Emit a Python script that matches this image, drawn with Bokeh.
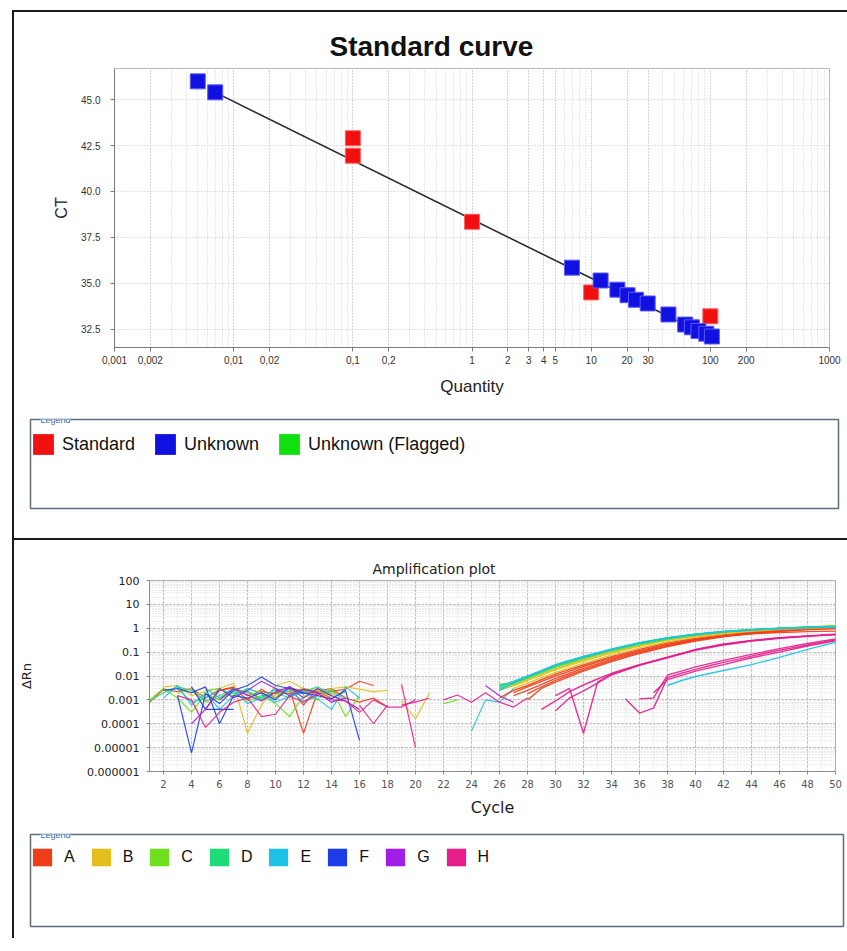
from bokeh.plotting import figure
from bokeh.models import Range1d, FixedTicker, Legend, LegendItem, Label, PrintfTickFormatter
from bokeh.layouts import column, row
from bokeh.embed import file_html
from bokeh.resources import INLINE

# ---------------- Standard curve data ----------------
std_qty = [0.1, 0.1, 1.0, 10.0, 100.0]
std_ct = [42.9, 41.95, 38.35, 34.5, 33.2]
unk_qty = [0.0050, 0.0070, 6.9, 12.0, 16.6, 20.2, 23.8, 29.8, 44.5, 61.5, 70.0, 79.5, 92.5, 103.0]
unk_ct = [46.0, 45.4, 35.85, 35.15, 34.65, 34.35, 34.1, 33.9, 33.3, 32.75, 32.6, 32.4, 32.25, 32.1]
fit_qty = [0.0070, 105.0]
fit_ct = [45.4, 32.0]

x_ticks = [0.001, 0.002, 0.01, 0.02, 0.1, 0.2, 1, 2, 3, 4, 5, 10, 20, 30, 100, 200, 1000]
x_tick_labels = ["0,001", "0,002", "0,01", "0,02", "0,1", "0,2", "1", "2", "3", "4", "5",
                 "10", "20", "30", "100", "200", "1000"]
ct_ticks = [32.5, 35.0, 37.5, 40.0, 42.5, 45.0]

legend1_labels = ["Standard", "Unknown", "Unknown (Flagged)"]
legend1_colors = ["#f01010", "#1010e0", "#10e010"]

# ---------------- Amplification plot data ----------------
rows = ["A", "B", "C", "D", "E", "F", "G", "H"]
row_colors = ["#ee3d1a", "#e3be1e", "#6ee01e", "#1edc78", "#1ec2e6", "#1e3ce6", "#a01ee6", "#e61e8c"]

amp_y_ticks = [1e-6, 1e-5, 1e-4, 1e-3, 1e-2, 0.1, 1, 10, 100]
amp_y_labels = ["0.000001", "0.00001", "0.0001", "0.001", "0.01", "0.1", "1", "10", "100"]
cycle_ticks = list(range(2, 51, 2))

# baseline (noise) traces: (row, cycles, dRn)
noise_wells = [
    ("A", [1, 2, 3, 4, 5, 6, 7, 8, 9, 10, 11, 12, 13, 14, 15, 16, 17],
     [0.0008, 0.0028, 0.0022, 0.0030, 0.0012, 0.0025, 0.0035, 0.0015, 0.0022, 0.0018, 0.0030, 0.0025, 0.0018, 0.0022, 0.0028, 0.0060, 0.0040]),
    ("A", [5, 6, 7, 8, 9, 10, 11, 12, 13, 14],
     [0.0004, 0.0025, 0.0032, 0.0010, 0.0028, 0.0012, 0.0035, 0.0006, 0.0030, 0.0015]),
    ("A", [9, 10, 11, 12, 13, 14], [0.0015, 0.0020, 0.0028, 0.00004, 0.0022, 0.0012]),
    ("A", [10, 11, 12, 13], [0.0025, 0.0018, 0.0030, 0.0020]),
    ("A", [12, 13, 14, 15, 16, 17, 18], [0.0018, 0.0024, 0.0030, 0.0012, 0.0008, 0.0012, 0.0005]),
    ("B", [2, 3, 4, 5, 6, 7, 8, 9, 10, 11, 12, 13, 14, 15],
     [0.0035, 0.0040, 0.0015, 0.0022, 0.0030, 0.0050, 0.00004, 0.0006, 0.0040, 0.0060, 0.0030, 0.0025, 0.0018, 0.0020]),
    ("B", [3, 4, 5, 6, 7, 8, 9, 10, 11, 12],
     [0.0018, 0.0030, 0.0008, 0.0012, 0.0028, 0.0022, 0.0010, 0.0016, 0.0030, 0.0024]),
    ("B", [14, 15, 16, 17, 18], [0.0030, 0.0035, 0.0028, 0.0022, 0.0025]),
    ("B", [19, 20, 21], [0.0009, 0.00016, 0.0020]),
    ("C", [1, 2, 3, 4, 5, 6, 7, 8, 9, 10, 11, 12, 13, 14, 15, 16],
     [0.0010, 0.0030, 0.0012, 0.0003, 0.0018, 0.0010, 0.0022, 0.0009, 0.0015, 0.0007, 0.0002, 0.0015, 0.0010, 0.0030, 0.0002, 0.0015]),
    ("C", [5, 6, 7, 8, 9, 10, 11, 12, 13, 14],
     [0.0025, 0.0030, 0.0014, 0.0030, 0.0020, 0.0012, 0.0024, 0.0018, 0.0028, 0.0012]),
    ("C", [22, 23], [0.0007, 0.0010]),
    ("D", [3, 4, 5, 6, 7, 8, 9, 10, 11, 12, 13, 14, 15],
     [0.0030, 0.0008, 0.0012, 0.0028, 0.0018, 0.0024, 0.0010, 0.0020, 0.0012, 0.0028, 0.0020, 0.0025, 0.0010]),
    ("D", [1, 2, 3, 4, 5, 6, 7, 8, 9, 10, 11, 12, 13, 14],
     [0.0009, 0.0020, 0.0035, 0.0025, 0.0009, 0.0015, 0.0030, 0.0020, 0.0012, 0.0028, 0.0016, 0.0022, 0.0035, 0.0018]),
    ("E", [2, 3, 4, 5, 6, 7, 8, 9, 10, 11, 12, 13, 14, 15, 16],
     [0.0012, 0.0040, 0.0006, 0.0020, 0.0004, 0.0015, 0.0030, 0.0018, 0.0008, 0.0014, 0.0020, 0.0011, 0.0004, 0.0035, 0.0012]),
    ("E", [5, 6, 7, 8, 9, 10, 11, 12, 13],
     [0.0030, 0.0012, 0.0025, 0.0007, 0.0012, 0.0030, 0.0022, 0.0009, 0.0015]),
    ("E", [24, 25, 26, 27], [0.00005, 0.0010, 0.0008, 0.0030]),
    ("F", [3, 4, 5, 6, 7, 8, 9, 10, 11, 12, 13, 14, 15, 16],
     [0.0015, 0.000006, 0.0018, 0.0007, 0.0025, 0.0040, 0.0090, 0.0040, 0.0030, 0.0020, 0.0015, 0.0011, 0.0025, 0.00002]),
    ("F", [4, 5, 6, 7], [0.0035, 0.0004, 0.0004, 0.0004]),
    ("F", [2, 3, 4, 5, 6, 7, 8, 9, 10, 11, 12],
     [0.0025, 0.0030, 0.0020, 0.0035, 0.0001, 0.0015, 0.0012, 0.0020, 0.0010, 0.0035, 0.0018]),
    ("G", [4, 5, 6, 7, 8, 9, 10, 11, 12, 13, 14, 15],
     [0.0001, 0.0004, 0.0030, 0.0012, 0.0025, 0.0060, 0.0030, 0.0015, 0.0028, 0.0020, 0.0008, 0.0012]),
    ("G", [6, 7, 8, 9, 10, 11, 12, 13, 14, 15, 16],
     [0.0010, 0.0030, 0.0016, 0.0009, 0.0022, 0.0035, 0.0012, 0.0030, 0.0015, 0.0009, 0.0004]),
    ("G", [25, 26, 27], [0.0040, 0.0015, 0.0008]),
    ("H", [3, 4, 5, 6, 7, 8, 9, 10, 11, 12, 13, 14, 15, 16, 17, 18, 19, 20],
     [0.0015, 0.0010, 0.00007, 0.0003, 0.0008, 0.0012, 0.0002, 0.00025, 0.0015, 0.0008, 0.0018, 0.0010, 0.0009, 0.0003, 0.0010, 0.0005, 0.0005, 0.0010]),
    ("H", [19, 20], [0.0045, 0.00001]),
    ("H", [19, 20, 21], [0.0006, 0.0008, 0.0012]),
    ("H", [16, 17, 18], [0.0006, 0.0001, 0.0006]),
    ("H", [22, 23, 24, 25, 26, 27, 28], [0.0010, 0.0016, 0.0008, 0.0020, 0.0008, 0.0005, 0.0012]),
]

# amplification traces: (row, cycles, dRn)
amp_wells = [
    ("A", [27, 28, 29, 30, 31, 32, 34, 36, 38, 40, 42, 44, 46, 48, 50],
     [0.0020, 0.0035, 0.0060, 0.010, 0.016, 0.025, 0.057, 0.115, 0.21, 0.34, 0.47, 0.58, 0.66, 0.72, 0.76]),
    ("A", [26, 27, 28, 29, 30, 31, 32, 34, 36, 38, 40, 42, 44, 46, 48, 50],
     [0.0012, 0.0025, 0.0040, 0.0070, 0.012, 0.019, 0.029, 0.065, 0.13, 0.24, 0.38, 0.54, 0.70, 0.84, 0.97, 1.08]),
    ("A", [27, 28, 29, 30, 31, 32, 34, 36, 38, 40, 42, 44, 46, 48, 50],
     [0.0015, 0.0025, 0.0045, 0.0080, 0.013, 0.021, 0.050, 0.105, 0.20, 0.33, 0.48, 0.64, 0.79, 0.92, 1.03]),
    ("A", [28, 29, 30, 31, 32, 34, 36, 38, 40, 42, 44, 46, 48, 50],
     [0.0010, 0.0030, 0.0055, 0.0095, 0.016, 0.040, 0.088, 0.17, 0.29, 0.44, 0.60, 0.75, 0.88, 0.98]),
    ("A", [28, 29, 30, 31, 32, 34, 36, 38, 40, 42, 44, 46, 48, 50],
     [0.0018, 0.0035, 0.0065, 0.011, 0.018, 0.045, 0.095, 0.18, 0.31, 0.46, 0.62, 0.77, 0.90, 1.00]),
    ("B", [27, 28, 29, 30, 31, 32, 34, 36, 38, 40, 42, 44, 46, 48, 50],
     [0.0030, 0.0050, 0.0085, 0.014, 0.022, 0.034, 0.075, 0.15, 0.27, 0.42, 0.58, 0.74, 0.88, 1.00, 1.10]),
    ("B", [27, 28, 29, 30, 31, 32, 34, 36, 38, 40, 42, 44, 46, 48, 50],
     [0.0040, 0.0070, 0.012, 0.020, 0.031, 0.046, 0.10, 0.19, 0.33, 0.50, 0.68, 0.85, 0.99, 1.12, 1.25]),
    ("B", [26, 27, 28, 29, 30, 31, 32, 34, 36, 38, 40, 42, 44, 46, 48, 50],
     [0.0025, 0.0040, 0.0065, 0.011, 0.018, 0.028, 0.042, 0.092, 0.18, 0.31, 0.47, 0.64, 0.80, 0.94, 1.06, 1.16]),
    ("C", [26, 27, 28, 29, 30, 31, 32, 34, 36, 38, 40, 42, 44, 46, 48, 50],
     [0.0045, 0.0050, 0.0085, 0.014, 0.024, 0.037, 0.055, 0.115, 0.21, 0.35, 0.52, 0.70, 0.86, 0.99, 1.10, 1.22]),
    ("C", [26, 27, 28, 29, 30, 31, 32, 34, 36, 38, 40, 42, 44, 46, 48, 50],
     [0.0028, 0.0046, 0.0080, 0.0135, 0.023, 0.035, 0.053, 0.112, 0.205, 0.345, 0.51, 0.69, 0.85, 0.99, 1.11, 1.24]),
    ("C", [26, 27, 28, 29, 30, 31, 32, 34, 36, 38, 40, 42, 44, 46, 48, 50],
     [0.0038, 0.0058, 0.0098, 0.0165, 0.029, 0.044, 0.064, 0.13, 0.245, 0.395, 0.56, 0.73, 0.88, 1.01, 1.13, 1.26]),
    ("D", [26, 27, 28, 29, 30, 31, 32, 34, 36, 38, 40, 42, 44, 46, 48, 50],
     [0.0040, 0.0055, 0.0095, 0.016, 0.028, 0.043, 0.063, 0.13, 0.24, 0.39, 0.56, 0.73, 0.88, 1.00, 1.10, 1.20]),
    ("D", [26, 27, 28, 29, 30, 31, 32, 34, 36, 38, 40, 42, 44, 46, 48, 50],
     [0.0030, 0.0050, 0.0088, 0.015, 0.026, 0.040, 0.059, 0.125, 0.23, 0.38, 0.55, 0.72, 0.87, 0.99, 1.09, 1.18]),
    ("E", [26, 27, 28, 29, 30, 31, 32, 34, 36, 38, 40, 42, 44, 46, 48, 50],
     [0.0025, 0.0052, 0.0092, 0.0155, 0.027, 0.041, 0.060, 0.125, 0.235, 0.38, 0.55, 0.71, 0.85, 0.97, 1.07, 1.15]),
    ("E", [26, 27, 28, 29, 30, 31, 32, 34, 36, 38, 40, 42, 44, 46, 48, 50],
     [0.0035, 0.0060, 0.0100, 0.0170, 0.030, 0.045, 0.066, 0.135, 0.25, 0.40, 0.56, 0.72, 0.86, 0.98, 1.08, 1.16]),
    ("H", [29, 30, 31, 32, 33, 34, 35, 36, 38, 40, 42, 44, 46, 48, 50],
     [0.0004, 0.0009, 0.0022, 0.0042, 0.0075, 0.013, 0.020, 0.030, 0.062, 0.13, 0.22, 0.31, 0.40, 0.48, 0.56]),
    ("H", [30, 31, 32, 33, 34, 35, 36, 38, 40, 42, 44, 46, 48, 50],
     [0.0015, 0.0030, 0.00004, 0.0055, 0.012, 0.019, 0.029, 0.060, 0.125, 0.21, 0.30, 0.39, 0.47, 0.55]),
    ("H", [30, 31, 32, 33, 34, 36, 38, 40, 42, 44, 46, 48, 50],
     [0.00035, 0.0012, 0.0024, 0.0050, 0.011, 0.028, 0.058, 0.12, 0.20, 0.29, 0.38, 0.46, 0.54]),
    ("H", [35, 36, 37, 38, 39, 40, 41, 42, 43, 44, 46, 48, 50],
     [0.0011, 0.00028, 0.00045, 0.0085, 0.013, 0.019, 0.027, 0.037, 0.050, 0.068, 0.12, 0.20, 0.33]),
    ("H", [36, 37, 38, 39, 40, 42, 44, 46, 48, 50],
     [0.0011, 0.0012, 0.011, 0.016, 0.024, 0.045, 0.080, 0.14, 0.23, 0.36]),
    ("H", [37, 38, 40, 42, 44, 46, 48, 50],
     [0.0020, 0.0070, 0.016, 0.030, 0.058, 0.10, 0.18, 0.30]),
    ("E", [38, 39, 40, 42, 44, 46, 48, 50],
     [0.0040, 0.0065, 0.0095, 0.017, 0.030, 0.060, 0.13, 0.26]),
]

ARIAL = "Liberation Sans"
DEJAVU = "DejaVu Sans"
W = 833

# ================= Top panel: Standard curve =================
p1 = figure(width=W, height=388, x_axis_type="log",
            x_range=Range1d(0.001, 1000), y_range=Range1d(31.5, 46.7),
            output_backend="svg", toolbar_location=None,
            min_border_left=100, min_border_right=18, min_border_top=56, min_border_bottom=53)
p1.background_fill_color = "white"
p1.border_fill_color = "white"
p1.outline_line_color = "#b8b8b8"
p1.title.text = "Standard curve"
p1.title.text_font = ARIAL
p1.title.text_font_size = "28px"
p1.title.text_font_style = "bold"
p1.title.text_color = "#111111"
p1.title.align = "left"
p1.title.offset = 215
p1.title.standoff = 13

x_minor = [k * 10.0 ** e for e in range(-3, 3) for k in range(1, 10)]
xtk = FixedTicker(ticks=x_ticks, minor_ticks=x_minor)
p1.xaxis.ticker = xtk
p1.xgrid.ticker = xtk
p1.xaxis.major_label_overrides = {t: l for t, l in zip(x_ticks, x_tick_labels)}
ytk = FixedTicker(ticks=ct_ticks)
p1.yaxis.ticker = ytk
p1.ygrid.ticker = ytk
p1.yaxis.formatter = PrintfTickFormatter(format="%.1f")

for g in (p1.xgrid, p1.ygrid):
    g.grid_line_color = "#c4c4c4"
    g.grid_line_dash = "1 2"
p1.xgrid.minor_grid_line_color = "#d0d0d0"
p1.xgrid.minor_grid_line_dash = "1 2"

p1.axis.axis_line_color = "#7a7a7a"
p1.axis.major_tick_line_color = "#7a7a7a"
p1.axis.major_tick_out = 4
p1.axis.major_tick_in = 0
p1.axis.minor_tick_line_color = None
p1.axis.major_label_text_font = ARIAL
p1.axis.major_label_text_font_size = "10px"
p1.axis.major_label_text_color = "#333333"
p1.axis.axis_label_text_font = ARIAL
p1.axis.axis_label_text_font_style = "normal"
p1.axis.axis_label_text_color = "#222222"
p1.xaxis.axis_label = "Quantity"
p1.xaxis.axis_label_text_font_size = "17px"
p1.xaxis.major_label_standoff = 4
p1.xaxis.axis_label_standoff = 10
p1.yaxis.axis_label = "CT"
p1.yaxis.axis_label_text_font_size = "16px"
p1.yaxis.major_label_standoff = 10
p1.yaxis.axis_label_standoff = 8

p1.line(fit_qty, fit_ct, line_color="#2a2a2a", line_width=1.6)
p1.scatter(std_qty, std_ct, marker="square", size=15, fill_color=legend1_colors[0], line_color="#ff6060", line_width=1)
p1.scatter(unk_qty, unk_ct, marker="square", size=15, fill_color=legend1_colors[1], line_color="#5a5aff", line_width=1)


def legend_fig(height, top, bottom, right):
    f = figure(width=W, height=height, x_range=Range1d(0, 1), y_range=Range1d(0, 1),
               x_axis_location=None, y_axis_location=None,
               output_backend="svg", toolbar_location=None,
               min_border_left=16, min_border_right=right, min_border_top=top, min_border_bottom=bottom)
    f.grid.visible = False
    f.outline_line_color = "#5e6e7c"
    f.outline_line_width = 1.5
    f.background_fill_color = "white"
    f.border_fill_color = "white"
    f.add_layout(Label(x=0, y=1, x_units="data", y_units="data", x_offset=10, text="Legend",
                       text_font=ARIAL, text_font_size="9px", text_color="#3a6fb0",
                       text_baseline="middle", background_fill_color="white"))
    return f


def swatch(f, col):
    # legend-only swatch: one box placed outside the visible 0..1 ranges
    return f.quad(left=[2], right=[3], bottom=[2], top=[3], fill_color=col, line_color=None)


leg1 = legend_fig(138, 19, 30, 9)
items1 = [LegendItem(label=lab, renderers=[swatch(leg1, col)]) for lab, col in zip(legend1_labels, legend1_colors)]
lg1 = Legend(items=items1, location="top_left", orientation="horizontal", margin=0, padding=1,
             spacing=17, label_standoff=6, glyph_width=26, glyph_height=26,
             label_text_font=ARIAL, label_text_font_size="18px", label_text_color="#111111",
             title=" ", title_text_font_size="9px", title_standoff=2,
             border_line_color=None, background_fill_alpha=0)
leg1.add_layout(lg1)

# ================= Bottom panel: Amplification plot =================
p2 = figure(width=W, height=280, y_axis_type="log",
            x_range=Range1d(1, 50), y_range=Range1d(1e-6, 100),
            output_backend="svg", toolbar_location=None,
            min_border_left=135, min_border_right=12, min_border_top=40, min_border_bottom=49)
p2.background_fill_color = "white"
p2.border_fill_color = "white"
p2.outline_line_color = "#b0b0b0"
p2.title.text = "Amplification plot"
p2.title.text_font = DEJAVU
p2.title.text_font_size = "14px"
p2.title.text_font_style = "normal"
p2.title.text_color = "#222222"
p2.title.align = "left"
p2.title.offset = 223
p2.title.standoff = 8

y_minor = [k * 10.0 ** e for e in range(-6, 2) for k in range(1, 10)]
ytk2 = FixedTicker(ticks=amp_y_ticks, minor_ticks=y_minor)
p2.yaxis.ticker = ytk2
p2.ygrid.ticker = ytk2
p2.yaxis.major_label_overrides = {t: l for t, l in zip(amp_y_ticks, amp_y_labels)}
xtk2 = FixedTicker(ticks=cycle_ticks, minor_ticks=list(range(1, 51)))
p2.xaxis.ticker = xtk2
p2.xgrid.ticker = xtk2

for g in (p2.xgrid, p2.ygrid):
    g.grid_line_color = "#b4b4b4"
    g.grid_line_dash = "2 2"
    g.minor_grid_line_color = "#d6d6d6"
    g.minor_grid_line_dash = "1 2"

p2.axis.axis_line_color = "#8a8a8a"
p2.axis.major_tick_line_color = "#8a8a8a"
p2.axis.major_tick_out = 3
p2.axis.major_tick_in = 0
p2.axis.minor_tick_line_color = None
p2.axis.major_label_text_font = DEJAVU
p2.axis.axis_label_text_font = DEJAVU
p2.axis.axis_label_text_font_style = "normal"
p2.axis.axis_label_text_color = "#222222"
p2.yaxis.major_label_text_font_size = "11px"
p2.yaxis.major_label_text_color = "#222222"
p2.yaxis.major_label_standoff = 6
p2.xaxis.major_label_text_font_size = "10px"
p2.xaxis.major_label_text_color = "#555555"
p2.xaxis.major_label_standoff = 4
p2.xaxis.axis_label = "Cycle"
p2.xaxis.axis_label_text_font_size = "16px"
p2.xaxis.axis_label_standoff = 7
p2.yaxis.axis_label = "ΔRn"
p2.yaxis.axis_label_text_font_size = "13px"
p2.yaxis.axis_label_standoff = 50

color_of = dict(zip(rows, row_colors))
for rw, cyc, drn in noise_wells:
    p2.line(cyc, drn, line_color=color_of[rw], line_width=1.2, line_alpha=0.9)
for rw, cyc, drn in amp_wells:
    p2.line(cyc, drn, line_color=color_of[rw], line_width=1.4, line_alpha=0.9)

leg2 = legend_fig(118, 14, 12, 4)
items2 = [LegendItem(label=lab, renderers=[swatch(leg2, col)]) for lab, col in zip(rows, row_colors)]
lg2 = Legend(items=items2, location="top_left", orientation="horizontal", margin=0, padding=0,
             spacing=14, label_standoff=10, label_width=10, glyph_width=24, glyph_height=22,
             label_text_font=ARIAL, label_text_font_size="16px", label_text_color="#111111",
             title=" ", title_text_font_size="9px", title_standoff=2,
             border_line_color=None, background_fill_alpha=0)
leg2.add_layout(lg2)

TOP_STYLE = {"border-style": "solid none solid solid", "border-width": "2px", "border-color": "#1a1a1a"}
BOT_STYLE = {"border-style": "none none none solid", "border-width": "2px", "border-color": "#1a1a1a"}
top_panel = column(row(p1), row(leg1), styles=TOP_STYLE)
bottom_panel = column(row(p2), row(leg2), styles=BOT_STYLE)
page = column(top_panel, bottom_panel, margin=(10, 0, 0, 12))

with open("out.html", "w") as fh:
    fh.write(file_html(page, INLINE))
